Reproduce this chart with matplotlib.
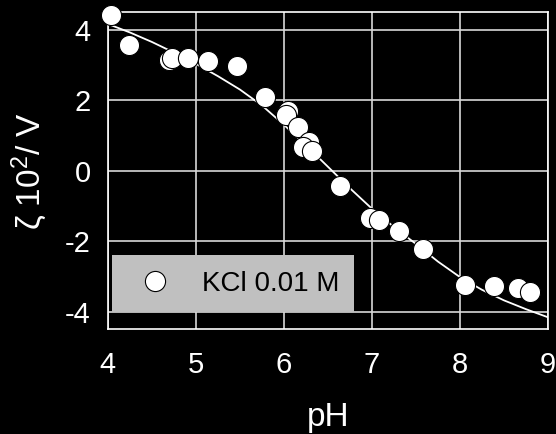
import matplotlib
matplotlib.use("Agg")
import matplotlib.pyplot as plt

# measured points (KCl 0.01 M)
ph = [4.04, 4.24, 4.69, 4.73, 4.91, 5.14, 5.47, 5.79, 6.05, 6.02, 6.16,
      6.28, 6.22, 6.32, 6.64, 6.98, 7.08, 7.31, 7.58, 8.06, 8.39, 8.66, 8.80]
zeta = [4.42, 3.57, 3.14, 3.19, 3.19, 3.12, 2.97, 2.08, 1.69, 1.59, 1.24,
        0.81, 0.67, 0.55, -0.44, -1.34, -1.41, -1.71, -2.23, -3.25, -3.26, -3.32, -3.43]

# fitted curve
ph_fit = [4.0, 4.25, 4.5, 4.75, 5.0, 5.25, 5.5, 5.75, 6.0, 6.25, 6.5, 6.75,
          7.0, 7.25, 7.5, 7.75, 8.0, 8.25, 8.5, 8.75, 9.0]
zeta_fit = [4.16, 3.92, 3.65, 3.35, 3.03, 2.68, 2.30, 1.85, 1.30, 0.72, 0.11, -0.50,
            -1.08, -1.60, -2.08, -2.58, -3.02, -3.38, -3.68, -3.93, -4.16]

plt.rcParams['font.family'] = ['Liberation Sans', 'DejaVu Sans']
plt.rcParams['axes.unicode_minus'] = False
plt.rcParams['mathtext.fontset'] = 'custom'
plt.rcParams['mathtext.rm'] = 'Liberation Sans'
plt.rcParams['mathtext.it'] = 'Liberation Sans:italic'

fig = plt.figure(figsize=(5.56, 4.34), dpi=100, facecolor='black')
ax = fig.add_axes([0.194, 0.2413, 0.7916, 0.7311])
ax.set_facecolor('black')

ax.plot(ph_fit, zeta_fit, '-', color='white', lw=1.3, zorder=3)
ax.plot(ph, zeta, 'o', ms=14.5, mfc='white', mec='black', mew=0.8,
        label='KCl 0.01 M', zorder=4, clip_on=False)

ax.set_xlim(4, 9)
ax.set_ylim(-4.5, 4.5)
ax.set_xticks([4, 5, 6, 7, 8, 9])
ax.set_yticks([-4, -2, 0, 2, 4])
ax.grid(True, color='#d8d8d8', lw=1.2)
ax.set_axisbelow(True)
for s in ax.spines.values():
    s.set_color('white')
    s.set_linewidth(1.2)
ax.tick_params(colors='white', labelsize=21, length=0)
ax.tick_params(axis='y', pad=12.5)
ax.tick_params(axis='x', pad=16)

ax.set_xlabel('pH', color='white', fontsize=24, labelpad=16)
ax.set_ylabel('ζ 10$^2$/ V', color='white', fontsize=24, labelpad=11)

leg = ax.legend(loc='lower left', bbox_to_anchor=(0.009, 0.0545), fontsize=20,
                facecolor='#c0c0c0', edgecolor='#c0c0c0', framealpha=1,
                fancybox=False, borderpad=0.55, handlelength=2.0,
                handletextpad=0.68, borderaxespad=0)
leg.get_frame().set_linewidth(0)

plt.savefig('out.png', dpi=100, facecolor='black')
